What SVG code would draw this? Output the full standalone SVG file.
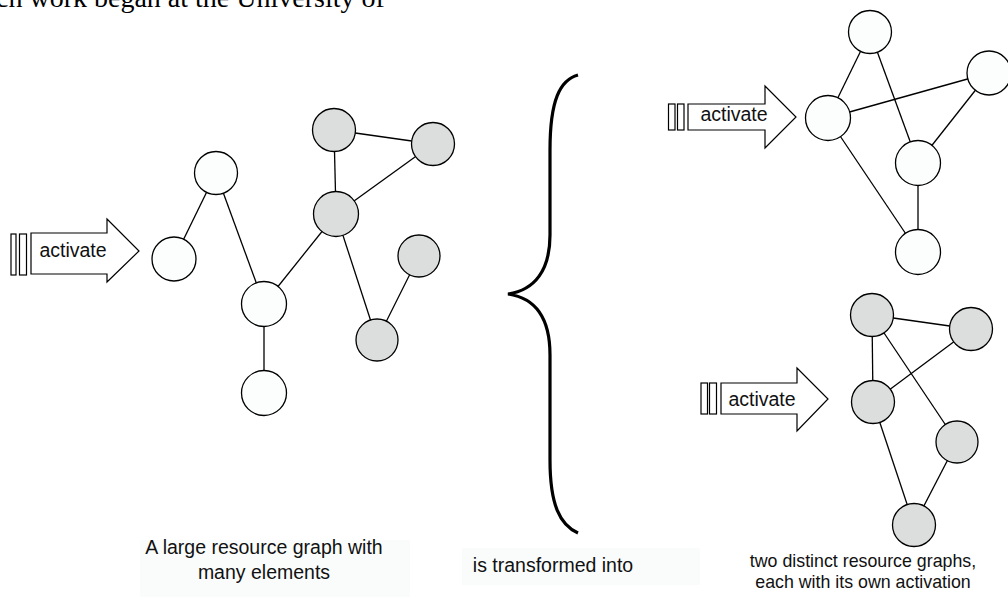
<svg xmlns="http://www.w3.org/2000/svg" width="1008" height="597" viewBox="0 0 1008 597">
<style>
.n{stroke:#000;stroke-width:1.3}
.w{fill:#fcfefd}
.g{fill:#dcdddd}
.e line{stroke:#000;stroke-width:1.3}
.arr{fill:#fff;stroke:#000;stroke-width:1.2}
.lbl{font-family:"Liberation Sans",Arial,sans-serif;fill:#111;text-anchor:middle}
.bg{fill:#fafcfc}
</style>
<rect width="1008" height="597" fill="#fff"/>
<text x="-4" y="7" font-family="Liberation Serif,Times New Roman,serif" font-size="28" fill="#000">ch work began at the University of</text>
<rect class="bg" x="140" y="540" width="270" height="57"/>
<rect class="bg" x="462" y="548" width="238" height="37"/>
<g id="connectors" class="e">
<line x1="216" y1="173" x2="174" y2="259"/>
<line x1="216" y1="173" x2="264" y2="304"/>
<line x1="264" y1="304" x2="264" y2="393"/>
<line x1="264" y1="304" x2="336" y2="214"/>
<line x1="336" y1="214" x2="334" y2="130"/>
<line x1="334" y1="130" x2="433" y2="144"/>
<line x1="433" y1="144" x2="336" y2="214"/>
<line x1="336" y1="214" x2="377" y2="340"/>
<line x1="377" y1="340" x2="419" y2="256"/>
<line x1="870" y1="32" x2="828" y2="118"/>
<line x1="870" y1="32" x2="918" y2="163"/>
<line x1="828" y1="118" x2="989" y2="73"/>
<line x1="989" y1="73" x2="918" y2="163"/>
<line x1="918" y1="163" x2="918" y2="252"/>
<line x1="828" y1="118" x2="918" y2="252"/>
<line x1="872" y1="315" x2="971" y2="329"/>
<line x1="872" y1="315" x2="873" y2="402"/>
<line x1="872" y1="315" x2="957" y2="442"/>
<line x1="971" y1="329" x2="873" y2="402"/>
<line x1="873" y1="402" x2="914" y2="525"/>
<line x1="957" y1="442" x2="914" y2="525"/>
</g>
<g id="left-graph">
<circle id="l1" class="n w" cx="216" cy="173" r="21.5"/>
<circle id="l2" class="n w" cx="174" cy="259" r="22"/>
<circle id="l3" class="n w" cx="264" cy="304" r="22.5"/>
<circle id="l4" class="n w" cx="264" cy="393" r="22.5"/>
<circle id="l5" class="n g" cx="334" cy="130" r="21.5"/>
<circle id="l6" class="n g" cx="433" cy="144" r="21.5"/>
<circle id="l7" class="n g" cx="336" cy="214" r="22.5"/>
<circle id="l8" class="n g" cx="419" cy="256" r="21"/>
<circle id="l9" class="n g" cx="377" cy="340" r="21"/>
</g>
<g id="top-graph">
<circle id="t1" class="n w" cx="870" cy="32" r="21.5"/>
<circle id="t2" class="n w" cx="828" cy="118" r="22.5"/>
<circle id="t3" class="n w" cx="989" cy="73" r="22"/>
<circle id="t4" class="n w" cx="918" cy="163" r="22.5"/>
<circle id="t5" class="n w" cx="918" cy="252" r="22.5"/>
</g>
<g id="bottom-graph">
<circle id="b1" class="n g" cx="872" cy="315" r="21.5"/>
<circle id="b2" class="n g" cx="971" cy="329" r="21.5"/>
<circle id="b3" class="n g" cx="873" cy="402" r="21.5"/>
<circle id="b4" class="n g" cx="957" cy="442" r="21"/>
<circle id="b5" class="n g" cx="914" cy="525" r="21.5"/>
</g>
<g id="activate-left">
<rect class="arr" x="11" y="234" width="5" height="41"/>
<rect class="arr" x="19.5" y="234" width="7" height="41"/>
<polygon class="arr" points="31,233 107,233 107,219 139,251 107,282 107,274 31,274"/>
<text class="lbl" x="73" y="257" font-size="19.5">activate</text>
</g>
<g id="activate-top">
<rect class="arr" x="668.5" y="104" width="6.5" height="26"/>
<rect class="arr" x="677.5" y="104" width="6.5" height="26"/>
<polygon class="arr" points="688,104 765,104 765,86 796,117 765,148 765,130 688,130"/>
<text class="lbl" x="734" y="121" font-size="19.5">activate</text>
</g>
<g id="activate-bottom">
<rect class="arr" x="701" y="383" width="6.5" height="31"/>
<rect class="arr" x="709.5" y="383" width="7" height="31"/>
<polygon class="arr" points="721,383 797,383 797,368 828,399 797,431 797,414 721,414"/>
<text class="lbl" x="762" y="406" font-size="19.5">activate</text>
</g>
<g id="brace">
<path d="M578,75 C560,80 550,100 550,150 L550,235 C550,270 535,290 508,294 C535,298 550,318 550,355 L550,460 C550,505 560,525 578,533" fill="none" stroke="#000" stroke-width="3.2"/>
</g>
<g id="labels">
<text class="lbl" x="264" y="554" font-size="19.5">A large resource graph with</text>
<text class="lbl" x="264" y="579" font-size="19.5">many elements</text>
<text class="lbl" x="553" y="572" font-size="19.5">is transformed into</text>
<text class="lbl" x="863" y="567" font-size="17.8">two distinct resource graphs,</text>
<text class="lbl" x="863" y="588" font-size="17.8">each with its own activation</text>
</g>
</svg>
